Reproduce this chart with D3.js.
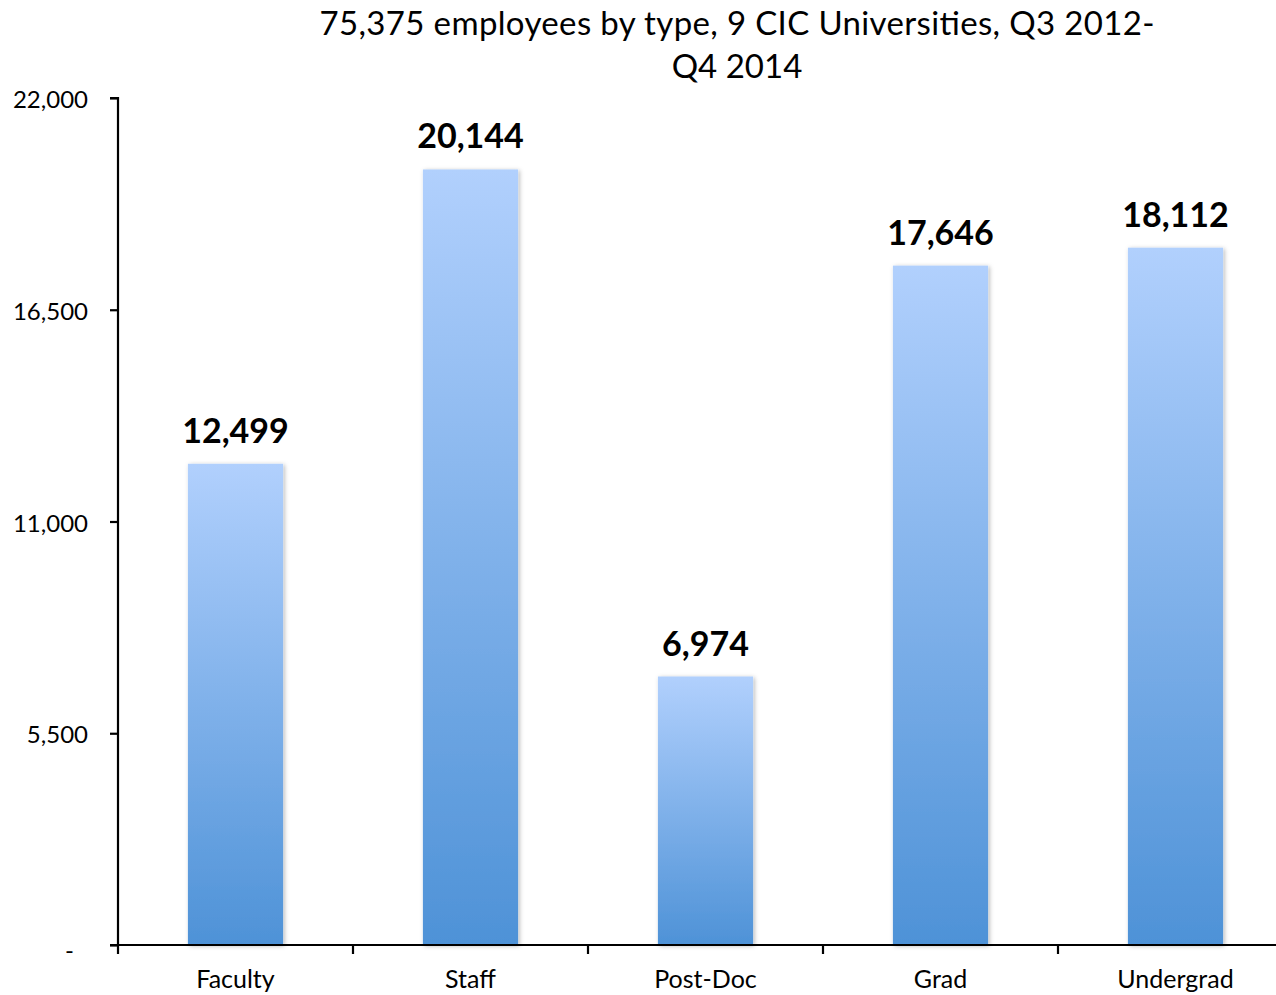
<!DOCTYPE html>
<html>
<head>
<meta charset="utf-8">
<script src="https://cdn.jsdelivr.net/npm/d3@7"></script>
<style>
  html, body { margin: 0; padding: 0; background: #fff; }
  svg { display: block; font-family: Lato, "Open Sans", sans-serif; }
</style>
</head>
<body>
<svg id="chart" width="1276" height="995"></svg>
<script>
// Employee counts by type
const categories = ["Faculty", "Staff", "Post-Doc", "Grad", "Undergrad"];
const employees = [12499, 20144, 6974, 17646, 18112];
const yTicks = [0, 5500, 11000, 16500, 22000];
const titleLines = ["75,375 employees by type, 9 CIC Universities, Q3 2012-", "Q4 2014"];

const svg = d3.select("#chart");
const margin = { left: 118, right: 0, top: 98, bottom: 50 };
const W = 1276, H = 995;
const axisY = 945;

const x = d3.scaleBand()
  .domain(categories)
  .range([margin.left, margin.left + 235 * categories.length])
  .paddingInner(0.595)
  .paddingOuter(0.2975);

const y = d3.scaleLinear()
  .domain([0, 22000])
  .range([axisY, margin.top]);

const defs = svg.append("defs");
const grad = defs.append("linearGradient")
  .attr("id", "barFill")
  .attr("x1", 0).attr("y1", 0).attr("x2", 0).attr("y2", 1);
grad.append("stop").attr("offset", "0%").attr("stop-color", "#b1d0fd");
grad.append("stop").attr("offset", "100%").attr("stop-color", "#4e92d7");

const shadow = defs.append("filter")
  .attr("id", "barShadow")
  .attr("x", "-10%").attr("y", "-5%").attr("width", "125%").attr("height", "110%");
shadow.append("feDropShadow")
  .attr("dx", 1.5).attr("dy", 1)
  .attr("stdDeviation", 2)
  .attr("flood-color", "#000")
  .attr("flood-opacity", 0.28);

// Bars
svg.append("g")
  .selectAll("rect")
  .data(categories)
  .join("rect")
  .attr("x", d => x(d))
  .attr("width", x.bandwidth())
  .attr("y", (d, i) => y(employees[i]))
  .attr("height", (d, i) => axisY - y(employees[i]))
  .attr("fill", "url(#barFill)")
  .attr("filter", "url(#barShadow)");

// Value labels
svg.append("g")
  .selectAll("text")
  .data(categories)
  .join("text")
  .attr("x", d => x(d) + x.bandwidth() / 2)
  .attr("y", (d, i) => y(employees[i]) - 21)
  .attr("text-anchor", "middle")
  .attr("font-size", 34)
  .attr("font-weight", "bold")
  .attr("fill", "#000")
  .text((d, i) => d3.format(",")(employees[i]));

// Y axis (zero shown as an accounting-style dash)
const yAxis = d3.axisLeft(y)
  .tickValues(yTicks)
  .tickSize(8)
  .tickPadding(22)
  .tickFormat(v => v === 0 ? "-" : d3.format(",")(v));
const gy = svg.append("g")
  .attr("transform", `translate(${margin.left},0)`)
  .call(yAxis);
gy.select(".domain").attr("stroke", "#000").attr("stroke-width", 2.2)
  .attr("d", `M-8,${y(22000)}H0V${axisY}`);
gy.selectAll(".tick line").attr("stroke", "#000").attr("stroke-width", 2.2);
gy.selectAll(".tick text")
  .attr("font-size", 24)
  .attr("font-family", "Lato, 'Open Sans', sans-serif")
  .attr("fill", "#000")
  .attr("dy", "0.4em");
gy.selectAll(".tick text")
  .filter(v => v === 0)
  .attr("dx", -14)
  .attr("dy", "0.55em");

// X axis
const xAxis = d3.axisBottom(x).tickSize(0).tickPadding(25);
const gx = svg.append("g")
  .attr("transform", `translate(0,${axisY})`)
  .call(xAxis);
gx.select(".domain").attr("stroke", "#000").attr("stroke-width", 2.2)
  .attr("d", `M${margin.left - 8},0H${W}`);
gx.selectAll(".tick text")
  .attr("font-size", 25)
  .attr("font-family", "Lato, 'Open Sans', sans-serif")
  .attr("fill", "#000");

// Category separators below the axis
const boundaries = categories.map(d => x(d) - x.step() * x.paddingInner() / 2);
boundaries.push(margin.left + x.step() * categories.length);
svg.append("g")
  .selectAll("line")
  .data(boundaries.filter(b => b <= W))
  .join("line")
  .attr("x1", d => d).attr("x2", d => d)
  .attr("y1", axisY).attr("y2", axisY + 9)
  .attr("stroke", "#000").attr("stroke-width", 2.2);

// Title
svg.append("text")
  .attr("text-anchor", "middle")
  .attr("font-size", 33)
  .attr("fill", "#000")
  .selectAll("tspan")
  .data(titleLines)
  .join("tspan")
  .attr("x", 737)
  .attr("y", (d, i) => 35 + i * 43)
  .attr("textLength", (d, i) => i === 0 ? 835 : null)
  .text(d => d);
</script>
</body>
</html>
